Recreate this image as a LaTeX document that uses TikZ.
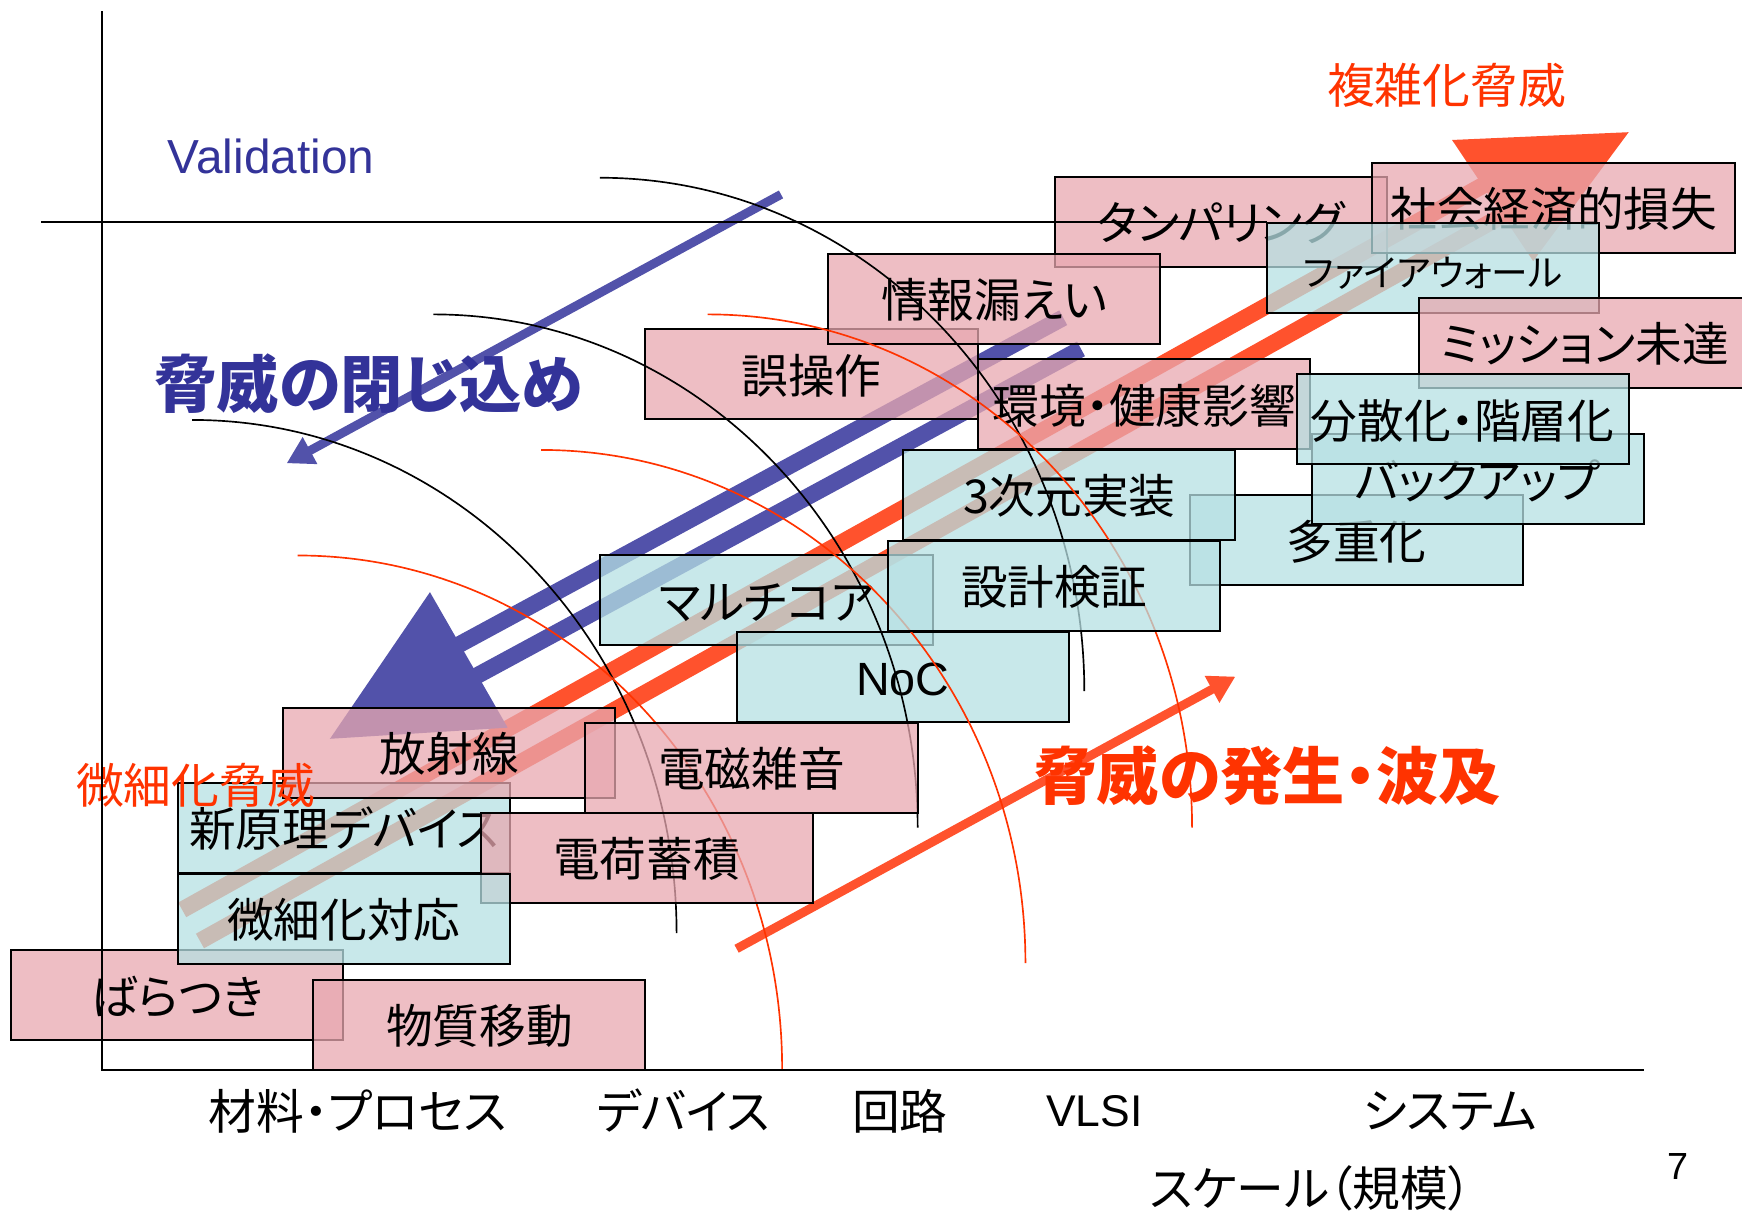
\documentclass[tikz,border=0pt]{standalone}
\usepackage{fontspec}
\setmainfont{Liberation Sans}
\newfontfamily\jp[RawFeature=+palt]{Noto Sans CJK JP}
\usetikzlibrary{arrows.meta}
\definecolor{boxpink}{RGB}{232,168,176}
\definecolor{boxblue}{RGB}{182,224,227}
\definecolor{valblue}{RGB}{51,51,153}
\definecolor{threatred}{RGB}{255,51,0}
\definecolor{bandblue}{RGB}{82,82,170}
\definecolor{bandred}{RGB}{255,82,45}
\tikzset{
  box/.style={draw, line width=0.9pt, fill opacity=0.75, text opacity=1, inner sep=0pt,
    minimum width=149.5pt, minimum height=40.5pt, text height=1.8em, text depth=0.12em,
    font=\jp\fontsize{21}{24}\selectfont},
  pinkbox/.style={box, fill=boxpink},
  bluebox/.style={box, fill=boxblue},
  axislabel/.style={font=\jp\fontsize{21.5}{24}\selectfont},
  band/.style={line width=7.5pt},
  thinarrow/.style={line width=4pt, -{Triangle[length=12pt,width=13pt]}}
}

\begin{document}
\begin{tikzpicture}[x=0.5pt, y=-0.5pt]
    \useasboundingbox (0,0) rectangle (1568,1095);

    % double arrows
    \coordinate (redtip) at (1466,119);
    \coordinate (redbaseA) at (1307,126);
    \coordinate (redbaseB) at (1380,235);
    \fill[bandred] (redbaseA) -- (redtip) -- (redbaseB) -- cycle;
    \draw[band, bandred] (164,819) -- (1340,164);
    \draw[band, bandred] (180,847) -- (1356,192);
    \coordinate (bluetip) at (297,665);
    \coordinate (bluebaseA) at (387,533);
    \coordinate (bluebaseB) at (457,655);
    \fill[bandblue] (bluebaseA) -- (bluetip) -- (bluebaseB) -- cycle;
    \draw[band, bandblue] (410,582) -- (957,286);
    \draw[band, bandblue] (426,610) -- (973,314);

    \coordinate (valtail) at (703,175);
    \coordinate (valhead) at (258,417);
    \draw[thinarrow, bandblue] (valtail) -- (valhead);
    \coordinate (spreadtail) at (663,854);
    \coordinate (spreadhead) at (1112,609);
    \draw[thinarrow, bandred] (spreadtail) -- (spreadhead);

    \node[bluebox] (redund) at (1221,486.5) {多重化};
    \node[pinkbox] (tamper) at (1099,200) {タンパリング};
    \node[pinkbox, minimum width=163.5pt] (socloss) at (1398.5,187.5) {社会経済的損失};
    \node[bluebox, font=\jp\fontsize{16.5}{20}\selectfont] (firewall) at (1290,241) {ファイアウォール};
    \node[pinkbox] (mission) at (1426.5,309) {ミッション未達};
    \node[bluebox] (backup) at (1330,431.5) {バックアップ};
    \node[pinkbox] (envhealth) at (1030,364) {環境・健康影響};
    \node[bluebox] (distrib) at (1316.5,377.5) {分散化・階層化};
    \node[pinkbox] (misop) at (730.5,337) {誤操作};
    \node[pinkbox] (leak) at (895,269) {情報漏えい};
    \node[bluebox] (threed) at (962.5,445.5) {3次元実装};
    \node[bluebox] (multicore) at (690,540.5) {マルチコア};
    \node[bluebox, font=\fontsize{21}{24}\selectfont] (noc) at (812.5,609) {NoC};

    % scale arcs
    \foreach \x/\y/\c in {540/160/black, 390/283/black, 173/378/black,
                          637/283/threatred, 487/405/threatred, 268/500/threatred}
        \draw[\c, line width=0.75pt] (\x,\y) .. controls +(241,0) and +(0,-255) .. +(436,462);

    \node[bluebox] (designver) at (949,527.5) {設計検証};
    \node[bluebox] (newdev) at (309.5,745.5) {新原理デバイス};
    \node[pinkbox] (radiation) at (404.5,677.5) {放射線};
    \node[pinkbox] (emnoise) at (676.5,691.5) {電磁雑音};
    \node[pinkbox] (charge) at (582,772.5) {電荷蓄積};
    \node[pinkbox] (variation) at (159.5,896) {ばらつき};
    \node[bluebox] (scaling) at (309.5,827) {微細化対応};
    \node[pinkbox] (migration) at (431.5,922.5) {物質移動};

    \node[valblue, font=\fontsize{21.5}{24}\selectfont] (valid) at (244,141) {Validation};
    \node[threatred, font=\jp\fontsize{21.5}{24}\selectfont] (complexthreat) at (1302,77) {複雑化脅威};
    \node[valblue, font=\jp\bfseries\fontsize{28}{30}\selectfont] (confine) at (332,345) {脅威の閉じ込め};
    \node[threatred, font=\jp\bfseries\fontsize{28}{30}\selectfont] (spread) at (1141,698) {脅威の発生・波及};
    \node[threatred, font=\jp\fontsize{21.5}{24}\selectfont] (scalethreat) at (176,707) {微細化脅威};

    \node[axislabel] (material) at (322,1000) {材料・プロセス};
    \node[axislabel] (device) at (615,1000) {デバイス};
    \node[axislabel] (circuit) at (810,1000) {回路};
    \node[font=\fontsize{20}{22}\selectfont] (vlsi) at (985,1000) {VLSI};
    \node[axislabel] (system) at (1305,1000) {システム};
    \node[axislabel] (scale) at (1180,1070) {スケール（規模）};
    \node[font=\fontsize{17}{20}\selectfont] (pagenum) at (1510,1050) {7};

    % axes
    \draw[line width=0.8pt] (92,10) -- (92,963) -- (1480,963);
    \draw[line width=0.8pt] (37,200) -- (1140,200);
\end{tikzpicture}
\end{document}
